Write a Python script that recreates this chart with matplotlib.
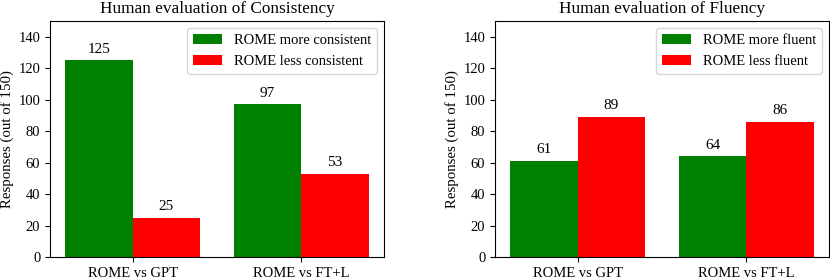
import matplotlib
matplotlib.use("Agg")
import matplotlib.pyplot as plt
import numpy as np

plt.rcParams['font.family'] = ['Liberation Serif', 'DejaVu Serif']
plt.rcParams['font.size'] = 11

groups = ["ROME vs GPT", "ROME vs FT+L"]
cons_more = [125, 97]
cons_less = [25, 53]
flu_more = [61, 64]
flu_less = [89, 86]

panels = [
    ("Human evaluation of Consistency", cons_more, cons_less,
     "ROME more consistent", "ROME less consistent"),
    ("Human evaluation of Fluency", flu_more, flu_less,
     "ROME more fluent", "ROME less fluent"),
]

fig = plt.figure(figsize=(8.3, 2.79), dpi=100)
lefts = [50 / 830, 495 / 830]
w = 334 / 830
b = 1 - 257 / 279
h = (257 - 21) / 279

x = np.arange(len(groups))
bw = 0.4
for left, (title, more, less, lm, ll) in zip(lefts, panels):
    ax = fig.add_axes([left, b, w, h])
    b1 = ax.bar(x - bw / 2, more, bw, color='green', label=lm)
    b2 = ax.bar(x + bw / 2, less, bw, color='red', label=ll)
    for bars in (b1, b2):
        for r in bars:
            ax.text(r.get_x() + r.get_width() / 2, r.get_height() + 3,
                    str(int(r.get_height())), ha='center', va='bottom', fontsize=11)
    ax.set_ylim(0, 150)
    ax.set_yticks(range(0, 150, 20))
    ax.set_xticks(x)
    ax.set_xticklabels(groups)
    ax.tick_params(labelsize=10.5)
    ax.set_ylabel("Responses (out of 150)", fontsize=10.7)
    ax.yaxis.set_label_coords(-0.107, 0.5)
    ax.set_title(title, fontsize=12.4, pad=6)
    ax.legend(loc='upper right', fontsize=10.5)

fig.savefig("out.png", dpi=100)
